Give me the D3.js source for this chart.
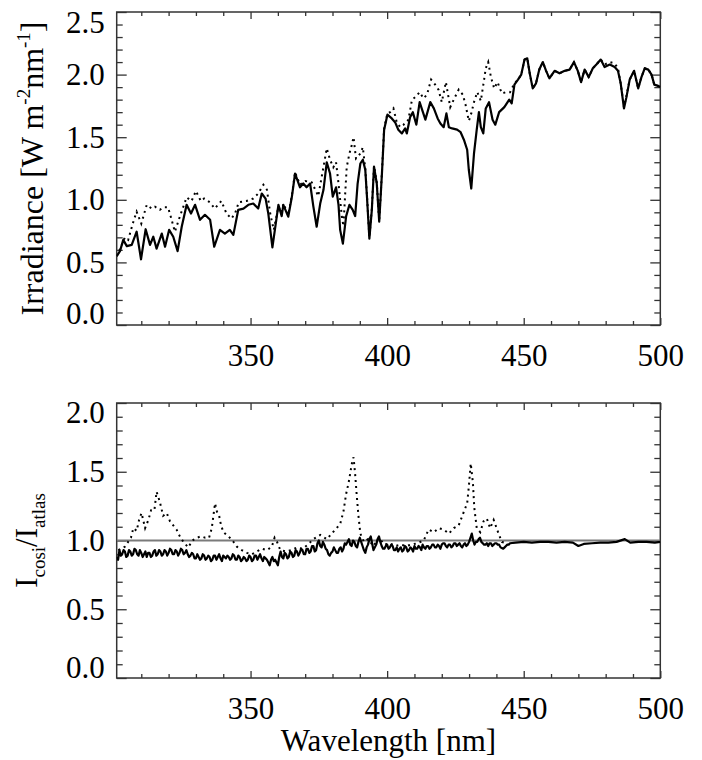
<!DOCTYPE html>
<html>
<head>
<meta charset="utf-8">
<script src="https://cdn.jsdelivr.net/npm/d3@7"></script>
<style>
  html, body { margin: 0; padding: 0; background: #fff; }
  svg { display: block; }
  svg text { font-family: "Liberation Serif", "Times New Roman", Times, "DejaVu Serif", serif !important; fill: #000; }
</style>
</head>
<body>
<div id="chart"></div>
<script>
// ---------------- DATA ----------------
// Top panel: irradiance [W m^-2 nm^-1], pairs [wavelength nm, value]
const irrSolid = [
  [301.0,0.55],[302.2,0.59],[303.4,0.68],[304.7,0.63],[306.5,0.64],[308.3,0.745],[309.9,0.525],
  [311.6,0.765],[313.2,0.64],[314.4,0.705],[315.6,0.61],[317.5,0.73],[318.7,0.625],[320.2,0.76],
  [321.7,0.705],[323.3,0.59],[324.8,0.785],[326.6,0.96],[328.2,0.89],[329.7,0.96],[331.5,0.84],
  [333.3,0.88],[335.2,0.84],[336.7,0.625],[338.8,0.76],[340.6,0.73],[342.4,0.76],[343.7,0.72],
  [345.5,0.92],[347.4,0.93],[349.2,0.96],[351.0,0.97],[352.8,0.93],[354.1,1.05],[355.5,1.01],
  [356.5,0.89],[358.0,0.62],[360.2,0.96],[361.4,0.87],[362.0,0.96],[363.8,0.865],[365.1,1.02],
  [366.3,1.21],[368.1,1.10],[369.3,1.13],[370.5,1.10],[371.8,1.13],[373.0,0.945],[374.2,0.785],
  [375.5,0.97],[376.7,1.08],[377.9,1.30],[379.1,1.21],[380.1,1.025],[381.3,1.10],[382.2,0.96],
  [382.8,0.76],[383.8,0.65],[385.0,0.87],[386.2,0.96],[387.4,0.92],[388.3,0.87],[389.2,1.13],
  [390.2,1.29],[391.1,1.32],[392.0,1.24],[392.6,1.03],[393.5,0.69],[394.4,0.92],[395.2,1.265],
  [396.2,1.13],[397.1,0.825],[398.1,1.21],[398.9,1.56],[400.1,1.68],[401.7,1.65],[402.9,1.62],
  [404.1,1.56],[405.4,1.53],[406.6,1.57],[407.2,1.53],[408.4,1.66],[409.4,1.70],[410.7,1.60],
  [411.9,1.78],[413.1,1.70],[414.0,1.64],[415.8,1.78],[417.1,1.73],[418.5,1.65],[419.5,1.61],
  [420.7,1.58],[421.7,1.69],[422.6,1.58],[423.8,1.57],[425.6,1.56],[426.9,1.54],[428.1,1.48],
  [429.3,1.40],[429.9,1.24],[430.8,1.09],[431.8,1.37],[432.8,1.56],[433.6,1.70],[434.3,1.58],
  [435.2,1.53],[436.1,1.73],[437.3,1.78],[438.6,1.64],[439.6,1.60],[441.0,1.70],[442.9,1.74],
  [444.7,1.80],[445.6,1.77],[446.6,1.92],[447.9,1.96],[449.1,2.00],[450.3,2.12],[451.3,2.13],
  [452.2,2.01],[453.3,1.89],[454.5,1.93],[455.7,2.04],[457.0,2.10],[458.2,2.03],[459.4,1.97],
  [461.3,2.03],[463.1,2.01],[465.0,2.03],[466.8,2.04],[468.4,2.10],[469.8,2.03],[471.0,1.94],
  [472.3,2.04],[473.8,1.98],[475.3,2.05],[476.6,2.08],[478.2,2.12],[479.6,2.06],[481.5,2.08],
  [483.3,2.06],[484.5,2.03],[485.5,1.93],[486.7,1.73],[487.6,1.82],[488.8,1.96],[490.4,2.03],
  [491.9,1.89],[493.1,1.98],[494.3,2.05],[495.6,2.04],[496.8,2.00],[497.8,1.92],[499.2,1.91],
  [500.0,1.90]
];
const irrDotted = [
  [301.0,0.55],[302.5,0.62],[304.0,0.70],[305.2,0.68],[306.5,0.78],[307.1,0.825],[308.3,0.905],
  [310.0,0.81],[312.0,0.96],[313.8,0.93],[315.0,0.945],[316.8,0.92],[318.0,0.94],[319.8,0.94],
  [320.8,0.865],[322.3,0.745],[324.1,0.865],[326.6,1.02],[328.4,0.99],[330.0,1.07],[331.8,0.99],
  [333.0,1.01],[335.1,0.98],[336.9,0.93],[339.3,0.99],[341.2,0.89],[343.0,0.85],[344.3,0.89],
  [345.7,0.98],[348.5,0.99],[351.0,1.01],[352.8,1.05],[354.7,1.12],[356.0,1.08],[357.2,0.89],
  [358.5,0.76],[360.2,0.945],[361.4,0.90],[362.0,0.97],[363.8,0.88],[365.1,1.03],[366.3,1.22],
  [368.1,1.12],[370.0,1.15],[372.4,1.14],[374.8,1.03],[376.1,1.19],[377.9,1.41],[379.1,1.32],
  [380.3,1.26],[381.3,1.30],[382.2,1.13],[383.4,0.87],[384.0,0.79],[384.6,1.03],[385.2,1.26],
  [386.2,1.37],[387.1,1.44],[387.7,1.50],[388.6,1.33],[390.2,1.37],[391.1,1.42],[392.0,1.25],
  [392.6,1.04],[393.5,0.70],[394.4,0.93],[395.2,1.27],[396.2,1.14],[397.1,0.83],[398.1,1.22],
  [398.9,1.57],[400.1,1.69],[401.1,1.70],[402.3,1.73],[403.5,1.62],[404.8,1.58],[406.0,1.60],
  [407.8,1.64],[409.1,1.80],[410.3,1.82],[411.9,1.86],[413.3,1.81],[414.6,1.84],[416.1,1.96],
  [417.6,1.92],[418.8,1.88],[420.0,1.78],[421.5,1.94],[423.1,1.74],[424.6,1.81],[426.2,1.88],
  [427.7,1.84],[428.7,1.76],[429.9,1.63],[430.8,1.69],[431.8,1.78],[433.0,1.86],[434.3,1.79],
  [435.5,1.96],[436.1,2.05],[437.0,2.10],[438.0,1.98],[439.2,1.89],[440.4,1.94],[442.0,1.85],
  [443.5,1.86],[445.0,1.86],[446.6,1.93],[447.9,1.96],[449.1,2.00],[450.3,2.12],[451.3,2.13],
  [452.2,2.01],[453.3,1.89],[454.5,1.93],[455.7,2.04],[457.0,2.10],[458.2,2.03],[459.4,1.97],
  [461.3,2.03],[463.1,2.01],[465.0,2.03],[466.8,2.04],[468.4,2.10],[469.8,2.03],[471.0,1.94],
  [472.3,2.04],[473.8,1.98],[475.3,2.05],[476.6,2.08],[478.2,2.12],[479.6,2.08],[481.5,2.10],
  [483.3,2.09],[484.5,2.05],[485.5,1.93],[486.7,1.74],[487.6,1.83],[488.8,1.96],[490.4,2.03],
  [491.9,1.89],[493.1,1.98],[494.3,2.05],[495.6,2.04],[496.8,2.00],[497.8,1.92],[499.2,1.91],
  [500.0,1.90]
];
// Bottom panel: ratio I_cosi / I_atlas
const ratioSolid = [
  [301,0.88],[301.5,0.86],[302,0.93],[302.5,0.89],[303,0.90],[303.5,0.93],[304,0.92],[304.5,0.88],
  [305,0.89],[305.5,0.93],[306,0.92],[306.5,0.89],[307,0.90],[307.5,0.94],[308,0.93],[308.5,0.90],
  [309,0.89],[309.5,0.93],[310,0.91],[310.5,0.88],[311,0.90],[311.5,0.92],[312,0.88],[312.5,0.91],
  [313,0.91],[313.5,0.88],[314,0.89],[314.5,0.92],[315,0.93],[315.5,0.89],[316,0.90],[316.5,0.93],
  [317,0.92],[317.5,0.89],[318,0.90],[318.5,0.93],[319,0.92],[319.5,0.89],[320,0.91],[320.5,0.94],
  [321,0.93],[321.5,0.90],[322,0.90],[322.5,0.93],[323,0.92],[323.5,0.89],[324,0.91],[324.5,0.94],
  [325,0.93],[325.5,0.90],[326,0.91],[326.5,0.93],[327,0.90],[327.5,0.88],[328,0.89],[328.5,0.91],
  [329,0.90],[329.5,0.87],[330,0.87],[330.5,0.90],[331,0.88],[331.5,0.86],[332,0.87],[332.5,0.90],
  [333,0.89],[333.5,0.86],[334,0.87],[334.5,0.89],[335,0.88],[335.5,0.85],[336,0.86],[336.5,0.89],
  [337,0.89],[337.5,0.86],[338,0.88],[338.5,0.90],[339,0.87],[339.5,0.85],[340,0.89],[340.5,0.88],
  [341,0.87],[341.5,0.89],[342,0.88],[342.5,0.86],[343,0.87],[343.5,0.90],[344,0.89],[344.5,0.86],
  [345,0.86],[345.5,0.89],[346,0.88],[346.5,0.85],[347,0.86],[347.5,0.88],[348,0.87],[348.5,0.85],
  [349,0.86],[349.5,0.89],[350,0.88],[350.5,0.85],[351,0.86],[351.5,0.89],[352,0.89],[352.5,0.86],
  [353,0.88],[353.5,0.90],[354,0.87],[354.5,0.85],[355,0.88],[355.5,0.87],[356,0.86],[356.5,0.84],
  [357,0.82],[357.5,0.86],[358,0.88],[358.5,0.85],[359,0.86],[359.5,0.84],[360,0.82],[360.5,0.88],
  [361,0.92],[361.5,0.88],[362,0.87],[362.5,0.91],[363,0.90],[363.5,0.87],[364,0.88],[364.5,0.92],
  [365,0.91],[365.5,0.88],[366,0.89],[366.5,0.93],[367,0.92],[367.5,0.89],[368,0.91],[368.5,0.94],
  [369,0.93],[369.5,0.90],[370,0.90],[370.5,0.94],[371,0.94],[371.5,0.91],[372,0.92],[372.5,0.96],
  [373,0.96],[373.5,0.92],[374,0.93],[374.5,0.98],[375,1.00],[375.5,0.96],[376,0.95],[376.5,0.99],
  [377,0.97],[377.5,0.94],[378,0.93],[378.5,0.90],[379,0.89],[379.5,0.91],[380,0.92],[380.5,0.95],
  [381,0.93],[381.5,0.91],[382,0.91],[382.5,0.94],[383,0.95],[383.5,0.92],[384,0.94],[384.5,0.98],
  [385,0.97],[385.5,0.99],[386,1.01],[386.5,0.97],[387,0.96],[387.5,1.00],[388,0.99],[388.5,0.96],
  [389,0.95],[389.5,0.99],[390,1.02],[390.5,0.99],[391,0.96],[391.5,0.93],[392,0.91],[392.5,0.95],
  [393,0.97],[393.5,1.01],[394,1.03],[394.5,0.98],[395,0.93],[395.5,0.95],[396,0.97],[396.5,1.01],
  [397,1.03],[397.5,0.99],[398,0.96],[398.5,0.94],[399,0.94],[399.5,0.96],[400,0.97],[400.5,0.94],
  [401,0.95],[401.5,0.97],[402,0.96],[402.5,0.93],[403,0.93],[403.5,0.95],[404,0.92],[404.5,0.94],
  [405,0.95],[405.5,0.92],[406,0.93],[406.5,0.96],[407,0.95],[407.5,0.92],[408,0.93],[408.5,0.95],
  [409,0.94],[409.5,0.92],[410,0.96],[410.5,0.94],[411,0.94],[411.5,0.96],[412,0.95],[412.5,0.93],
  [413,0.97],[413.5,0.95],[414,0.94],[414.5,0.96],[415,0.96],[415.5,0.94],[416,0.95],[416.5,0.97],
  [417,0.97],[417.5,0.95],[418,0.95],[418.5,0.97],[419,0.96],[419.5,0.94],[420,0.97],[420.5,0.98],
  [421,0.98],[421.5,0.96],[422,0.95],[422.5,0.97],[423,0.97],[423.5,0.95],[424,0.96],[424.5,0.98],
  [425,0.98],[425.5,0.96],[426,0.97],[426.5,0.98],[427,0.96],[427.5,0.95],[428,0.97],[428.5,0.98],
  [429,0.96],[429.5,0.97],[430,0.99],[430.5,1.02],[431,1.05],[431.5,1.00],[432,0.97],[432.5,0.99],
  [433,0.99],[433.5,1.01],[434,1.02],[434.5,0.99],[435,0.98],[435.5,0.97],[436,0.97],[436.5,0.98],
  [437,0.96],[437.5,0.98],[438,0.98],[438.5,0.96],[439,0.97],[439.5,0.98],[440,0.98],[440.5,0.97],
  [441,0.97],[441.5,0.95],[442,0.945],[442.5,0.94],[443,0.95],[443.5,0.96],[444,0.97],[444.5,0.97],
  [445,0.98],[447,0.985],[450,0.99],[453,0.985],[456,0.99],[459,0.99],[462,0.985],[465,0.99],
  [468,0.985],[470,0.96],[472,0.975],[475,0.98],[478,0.985],[481,0.985],[484,0.99],[487,1.01],
  [489,0.985],[492,0.99],[495,0.99],[498,0.985],[500,0.99]
];
const ratioDotted = [
  [301.6,0.93],[304.0,0.955],[306.2,1.02],[307.1,1.09],[308.3,1.07],[309.2,1.15],[310.1,1.20],
  [311.4,1.09],[312.6,1.15],[313.6,1.22],[314.8,1.22],[315.6,1.355],[316.8,1.28],[318.0,1.18],
  [319.3,1.20],[320.5,1.14],[321.7,1.11],[322.9,1.08],[324.1,1.03],[325.4,0.99],[327.2,0.95],
  [328.7,1.00],[330.3,1.02],[331.9,1.03],[333.4,1.02],[334.8,1.02],[335.8,1.09],[337.0,1.27],
  [337.7,1.21],[338.5,1.18],[339.2,1.11],[340.1,1.06],[341.9,1.03],[343.4,1.00],[345.0,0.955],
  [346.8,0.93],[348.7,0.91],[350.5,0.90],[352.3,0.92],[354.2,0.94],[356.0,0.93],[357.8,0.955],
  [358.8,1.02],[359.7,0.99],[360.9,0.93],[363.0,0.92],[365.0,0.93],[367.0,0.95],[369.0,0.94],
  [371.0,0.97],[373.0,1.01],[375.5,1.04],[377.9,1.01],[379.7,1.05],[381.5,1.09],[382.8,1.12],
  [384.0,1.21],[385.0,1.34],[385.9,1.42],[386.5,1.49],[387.1,1.56],[387.7,1.605],[388.3,1.48],
  [388.9,1.32],[389.5,1.18],[390.2,1.05],[391.5,0.99],[393.0,1.01],[395.0,0.96],[397.0,1.02],
  [399.0,0.97],[401.0,0.98],[403.0,0.96],[405.0,0.97],[407.0,0.96],[409.0,0.97],[411.0,0.98],
  [413.4,1.00],[415.2,1.08],[417.1,1.06],[418.9,1.09],[420.7,1.08],[422.6,1.05],[424.4,1.09],
  [426.2,1.11],[428.1,1.21],[429.3,1.27],[429.9,1.39],[430.6,1.56],[431.4,1.42],[431.9,1.24],
  [432.8,1.09],[434.1,1.06],[435.3,1.14],[436.5,1.16],[437.7,1.09],[439.0,1.15],[440.8,1.05],
  [442.0,0.99],[443.5,0.98]
];
const xMajorTicks = [350, 400, 450, 500];
const xMinorTicks = [310, 320, 330, 340, 360, 370, 380, 390, 410, 420, 430, 440, 460, 470, 480, 490];
const yTopMajor = [0.0, 0.5, 1.0, 1.5, 2.0, 2.5];
const yTopMinor = [0.1, 0.2, 0.3, 0.4, 0.6, 0.7, 0.8, 0.9, 1.1, 1.2, 1.3, 1.4, 1.6, 1.7, 1.8, 1.9, 2.1, 2.2, 2.3, 2.4];
const yBotMajor = [0.0, 0.5, 1.0, 1.5, 2.0];
const yBotMinor = [0.1, 0.2, 0.3, 0.4, 0.6, 0.7, 0.8, 0.9, 1.1, 1.2, 1.3, 1.4, 1.6, 1.7, 1.8, 1.9];
const refLine = 1.0;

// ---------------- LAYOUT ----------------
const W = 702, H = 760;
const FS = 31;
const FONT = '"Liberation Serif", "Times New Roman", Times, "DejaVu Serif", serif';
const left = 116.7, right = 660.3;
const top1 = 12, bot1 = 325;
const top2 = 403, bot2 = 678;
const axisColor = "#333";

const svg = d3.select("#chart").append("svg").attr("width", W).attr("height", H)
  .style("font-family", FONT);

const x = d3.scaleLinear().domain([301, 500]).range([left, right]);
const y1 = d3.scaleLinear().domain([0, 2.5]).range([bot1, top1]);
const y2 = d3.scaleLinear().domain([0, 2.0]).range([bot2, top2]);

function styleAxis(g) {
  g.attr("font-family", null).style("font-family", FONT);
  g.select(".domain").remove();
  g.selectAll(".tick line").attr("stroke", axisColor).attr("stroke-width", 1.3);
  g.selectAll(".tick text").attr("font-size", FS).style("font-family", FONT).attr("fill", "#000");
}

function panel(y, yTop, yBot, majors, minors, labelsShift) {
  const g = svg.append("g");
  g.append("g").attr("transform", `translate(0,${yBot})`)
    .call(d3.axisBottom(x).tickValues(xMinorTicks).tickSize(-4).tickFormat(""))
    .call(styleAxis);
  g.append("g").attr("transform", `translate(0,${yTop})`)
    .call(d3.axisTop(x).tickValues(xMinorTicks).tickSize(-4).tickFormat(""))
    .call(styleAxis);
  g.append("g").attr("transform", `translate(0,${yBot})`)
    .call(d3.axisBottom(x).tickValues(xMajorTicks).tickSize(-7).tickPadding(19).tickFormat(d3.format("d")))
    .call(styleAxis);
  g.append("g").attr("transform", `translate(0,${yTop})`)
    .call(d3.axisTop(x).tickValues(xMajorTicks).tickSize(-7).tickFormat(""))
    .call(styleAxis);
  g.append("g").attr("transform", `translate(${left},0)`)
    .call(d3.axisLeft(y).tickValues(minors).tickSize(-6).tickFormat(""))
    .call(styleAxis);
  g.append("g").attr("transform", `translate(${right},0)`)
    .call(d3.axisRight(y).tickValues(minors).tickSize(-6).tickFormat(""))
    .call(styleAxis);
  const yl = g.append("g").attr("transform", `translate(${left},0)`)
    .call(d3.axisLeft(y).tickValues(majors).tickSize(-10).tickPadding(12).tickFormat(d3.format(".1f")))
    .call(styleAxis);
  g.append("g").attr("transform", `translate(${right},0)`)
    .call(d3.axisRight(y).tickValues(majors).tickSize(-10).tickFormat(""))
    .call(styleAxis);
  const lo = d3.min(majors), hi = d3.max(majors);
  yl.selectAll(".tick").filter(d => d === lo).select("text").attr("y", -labelsShift);
  yl.selectAll(".tick").filter(d => d === hi).select("text").attr("y", labelsShift);
  g.append("rect").attr("x", left).attr("y", yTop).attr("width", right - left).attr("height", yBot - yTop)
    .attr("fill", "none").attr("stroke", axisColor).attr("stroke-width", 1.5);
  return g;
}

svg.append("clipPath").attr("id", "c1").append("rect")
  .attr("x", left).attr("y", top1).attr("width", right - left).attr("height", bot1 - top1);
svg.append("clipPath").attr("id", "c2").append("rect")
  .attr("x", left).attr("y", top2).attr("width", right - left).attr("height", bot2 - top2);

panel(y1, top1, bot1, yTopMajor, yTopMinor, 11);
panel(y2, top2, bot2, yBotMajor, yBotMinor, 10);

const line1 = d3.line().x(d => x(d[0])).y(d => y1(d[1]));
const line2 = d3.line().x(d => x(d[0])).y(d => y2(d[1]));

const p1 = svg.append("g").attr("clip-path", "url(#c1)");
p1.append("path").datum(irrDotted).attr("d", line1).attr("fill", "none")
  .attr("stroke", "#000").attr("stroke-width", 2).attr("stroke-dasharray", "2,4");
p1.append("path").datum(irrSolid).attr("d", line1).attr("fill", "none")
  .attr("stroke", "#000").attr("stroke-width", 2.2).attr("stroke-linejoin", "round");

const p2 = svg.append("g").attr("clip-path", "url(#c2)");
p2.append("line").attr("x1", left).attr("x2", right).attr("y1", y2(refLine)).attr("y2", y2(refLine))
  .attr("stroke", "#7a7a7a").attr("stroke-width", 1.8);
p2.append("path").datum(ratioDotted).attr("d", line2).attr("fill", "none")
  .attr("stroke", "#000").attr("stroke-width", 2).attr("stroke-dasharray", "2,4");
p2.append("path").datum(ratioSolid).attr("d", line2).attr("fill", "none")
  .attr("stroke", "#000").attr("stroke-width", 2.2).attr("stroke-linejoin", "round");

const t1 = svg.append("text").attr("transform", `translate(43,${(top1 + bot1) / 2}) rotate(-90)`)
  .attr("text-anchor", "middle").attr("font-size", 32).style("font-family", FONT);
t1.append("tspan").text("Irradiance [W m");
t1.append("tspan").attr("font-size", 19).attr("dy", -13).text("-2");
t1.append("tspan").attr("dy", 13).text("nm");
t1.append("tspan").attr("font-size", 19).attr("dy", -13).text("-1");
t1.append("tspan").attr("dy", 13).text("]");

const t2 = svg.append("text").attr("transform", `translate(37,${(top2 + bot2) / 2}) rotate(-90)`)
  .attr("text-anchor", "middle").attr("font-size", 31).style("font-family", FONT);
t2.append("tspan").text("I");
t2.append("tspan").attr("font-size", 19).attr("dy", 8).text("cosi");
t2.append("tspan").attr("dy", -8).text("/I");
t2.append("tspan").attr("font-size", 19).attr("dy", 8).text("atlas");

svg.append("text").attr("x", (left + right) / 2).attr("y", 751)
  .attr("text-anchor", "middle").attr("font-size", 31).style("font-family", FONT).text("Wavelength [nm]");
</script>
</body>
</html>
